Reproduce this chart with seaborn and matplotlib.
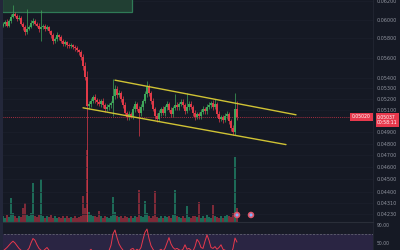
import numpy as np
import matplotlib
matplotlib.use("Agg")
import matplotlib.pyplot as plt
from matplotlib.patches import Rectangle
from matplotlib.ticker import NullLocator, NullFormatter
import seaborn as sns

sns.set_style("dark")
plt.rcParams['font.family'] = ['DejaVu Sans']

# ---------------- data (prices in units of 1e-5) ----------------
first_open_e5 = 5936
close_e5 = [
    5957, 5978, 5936, 5989, 6032, 6064, 6043, 6010, 6021, 5957,
    5915, 5863, 5904, 5925, 5968, 5989, 5957, 5936, 5894, 5915,
    5936, 5904, 5915, 5873, 5832, 5769, 5790, 5832, 5811, 5769,
    5739, 5759, 5728, 5718, 5728, 5708, 5698, 5678, 5657, 5607,
    5517, 5409, 5137, 5155, 5183, 5220, 5192, 5174, 5155, 5183,
    5146, 5109, 5128, 5146, 5164, 5229, 5295, 5239, 5257, 5201,
    5146, 5073, 5037, 5064, 5046, 5109, 5155, 5109, 5073, 5128,
    5183, 5248, 5314, 5257, 5183, 5109, 5046, 5019, 5073, 5109,
    5073, 5128, 5155, 5100, 5064, 5119, 5146, 5128, 5155, 5174,
    5146, 5091, 5128, 5155, 5128, 5073, 5037, 5064, 5046, 5082,
    5109, 5091, 5128, 5146, 5164, 5128, 5155, 5064, 5019, 5037,
    5010, 5046, 5064, 5001, 4939, 4903, 5109, 5037,
]
upper_wick_e5 = [
    20, 15, 25, 20, 30, 99, 15, 20, 25, 15,
    20, 30, 215, 15, 25, 30, 20, 15, 25, 193,
    20, 15, 30, 20, 15, 25, 20, 30, 15, 20,
    25, 20, 15, 20, 25, 15, 20, 25, 15, 20,
    30, 40, 60, 25, 30, 20, 25, 15, 30, 20,
    25, 20, 30, 15, 20, 161, 40, 25, 30, 20,
    25, 30, 20, 25, 15, 30, 25, 20, 30, 25,
    20, 30, 57, 25, 20, 30, 20, 25, 30, 20,
    25, 20, 30, 15, 25, 20, 102, 25, 20, 30,
    25, 20, 129, 25, 30, 20, 25, 15, 20, 30,
    25, 20, 30, 25, 20, 25, 46, 20, 25, 15,
    20, 25, 30, 20, 15, 20, 148, 74,
]
lower_wick_e5 = [
    20, 25, 15, 20, 25, 15, 20, 25, 15, 20,
    25, 30, 20, 15, 20, 25, 20, 15, 30, 125,
    20, 25, 15, 20, 30, 25, 20, 15, 25, 20,
    15, 20, 25, 20, 15, 20, 25, 20, 30, 25,
    40, 30, 1137, 30, 25, 20, 30, 25, 20, 30,
    25, 30, 20, 25, 30, 118, 30, 25, 20, 30,
    25, 20, 30, 25, 20, 25, 30, 20, 204, 25,
    30, 20, 25, 30, 25, 20, 30, 25, 20, 30,
    20, 25, 30, 20, 25, 30, 20, 25, 30, 20,
    25, 30, 20, 25, 20, 30, 25, 20, 30, 25,
    20, 30, 25, 20, 25, 30, 20, 25, 30, 20,
    25, 20, 30, 25, 30, 26, 30, 25,
]
volume = [
    8, 6, 10, 7, 33, 12, 8, 6, 9, 7,
    19, 26, 10, 8, 12, 54, 9, 7, 10, 60,
    8, 6, 9, 7, 10, 6, 8, 5, 7, 6,
    8, 6, 9, 5, 7, 6, 8, 5, 7, 9,
    36, 20, 100, 14, 10, 8, 9, 7, 15, 8,
    6, 9, 7, 5, 8, 35, 14, 9, 7, 8,
    6, 9, 7, 5, 8, 6, 9, 7, 44, 8,
    7, 29, 12, 8, 6, 9, 43, 7, 5, 8,
    6, 9, 7, 8, 6, 10, 44, 9, 7, 6,
    8, 5, 22, 7, 6, 9, 8, 7, 28, 6,
    8, 5, 10, 7, 6, 24, 9, 7, 6, 8,
    6, 9, 10, 8, 7, 12, 90, 20,
]
rsi = [
    32, 36, 40, 45, 50, 54, 50, 44, 38, 34,
    31, 30, 33, 38, 50, 60, 56, 46, 38, 34,
    32, 36, 40, 34, 30, 28, 31, 33, 30, 27,
    26, 29, 27, 25, 26, 28, 25, 24, 26, 22,
    18, 12, 20, 32, 36, 30, 33, 31, 29, 32,
    30, 28, 31, 33, 45, 70, 79, 62, 48, 40,
    34, 30, 28, 31, 36, 38, 32, 36, 33, 40,
    58, 74, 81, 60, 44, 36, 30, 28, 33, 36,
    32, 38, 50, 62, 48, 40, 36, 38, 35, 33,
    36, 46, 36, 38, 34, 32, 42, 58, 52, 40,
    38, 54, 68, 56, 40, 38, 42, 36, 40, 46,
    36, 34, 32, 28, 26, 38, 61, 52,
]
price_ticks = [0.06200, 0.06000, 0.05800, 0.05600, 0.05400, 0.05300, 0.05200,
               0.05100, 0.04900, 0.04800, 0.04700, 0.04600, 0.04500, 0.04400,
               0.04310, 0.04230]
price_tick_labels = ["0.06200", "0.06000", "0.05800", "0.05600", "0.05400",
                     "0.05300", "0.05200", "0.05100", "0.04900", "0.04800",
                     "0.04700", "0.04600", "0.04500", "0.04400", "0.04310",
                     "0.04230"]
rsi_ticks = [90, 50]
rsi_tick_labels = ["90.00", "50.00"]
rsi_band = [30, 70]

channel_upper_idx = [56, 146.5]
channel_upper_price = [0.05380, 0.05055]
channel_lower_idx = [40, 141.5]
channel_lower_price = [0.05119, 0.04791]
zone_idx = [-0.5, 64.5]
zone_price = [0.06086, 0.06400]
last_price = 0.05037
last_price_text = "0.05037"
countdown_text = "00:58:11"
left_label_text = "0.05020"
event_idx = [117, 124]
event_price = [0.04221, 0.04221]

# ---------------- derived OHLC ----------------
close = np.array(close_e5) / 1e5
opn = np.concatenate([[first_open_e5 / 1e5], close[:-1]])
high = np.maximum(opn, close) + np.array(upper_wick_e5) / 1e5
low = np.minimum(opn, close) - np.array(lower_wick_e5) / 1e5
idx = np.arange(len(close))
up = close >= opn

BG = "#151924"
UP = "#3fa65a"
DN = "#e03a48"
VUP = "#1d6a57"
VDN = "#7e2a38"

fig = plt.figure(figsize=(4, 2.5), dpi=100, facecolor=BG)
W = 373 / 400
rect_main = [0, 28 / 250, W, 222 / 250]

# volume (behind)
vax = fig.add_axes(rect_main, zorder=0)
vax.set_facecolor(BG)
vax.bar(idx, volume, width=0.75, color=np.where(up, VUP, VDN), linewidth=0)
vax.set_xlim(-1.5, 185)
vax.set_ylim(0, 100 * 222 / 72)
vax.set_xticks([]); vax.set_yticks([])
for s in vax.spines.values():
    s.set_visible(False)

# main price axes
ax = fig.add_axes(rect_main, zorder=1)
ax.patch.set_alpha(0)
ax.set_yscale("log")
ax.set_xlim(-1.5, 185)
ax.set_ylim(0.04168, 0.06215)

for t in price_ticks:
    ax.axhline(t, color="#1b1f2c", lw=0.5, zorder=0)

ax.add_patch(Rectangle((zone_idx[0], zone_price[0]), zone_idx[1] - zone_idx[0],
                       zone_price[1] - zone_price[0], facecolor="#213f33",
                       edgecolor="#2f7a56", lw=0.9, zorder=1))

cols = np.where(up, UP, DN)
ax.vlines(idx, low, high, colors=cols, lw=0.5, zorder=2)
ax.bar(idx, np.abs(close - opn) + 1e-6, bottom=np.minimum(opn, close),
       width=0.8, color=cols, linewidth=0, zorder=3)

ax.plot(channel_upper_idx, channel_upper_price, color="#cfc234", lw=1.0, zorder=4)
ax.plot(channel_lower_idx, channel_lower_price, color="#cfc234", lw=1.0, zorder=4)

ax.axhline(last_price, color="#d8364a", lw=0.5, ls=(0, (1.5, 1.5)), zorder=2)

sns.scatterplot(x=event_idx, y=event_price, ax=ax, s=22, color="#e0566a",
                edgecolor="none", zorder=5)
sns.scatterplot(x=event_idx, y=event_price, ax=ax, s=5, color="#7fb2ff",
                edgecolor="none", zorder=6)

ax.yaxis.tick_right()
ax.set_yticks(price_ticks, price_tick_labels)
ax.yaxis.set_minor_locator(NullLocator())
ax.yaxis.set_minor_formatter(NullFormatter())
ax.tick_params(axis="y", length=0, pad=2.5, labelsize=3.5, labelcolor="#8f939e")
ax.set_xticks([])
for name, s in ax.spines.items():
    s.set_visible(name == "right")
ax.spines["right"].set_color("#232733")
ax.spines["right"].set_linewidth(0.6)

ax.annotate(last_price_text + "\n" + countdown_text, xy=(1.0, last_price),
            xycoords=("axes fraction", "data"), xytext=(3, 1.5),
            textcoords="offset points", ha="left", va="top", fontsize=3.3,
            color="white", linespacing=1.1,
            bbox=dict(boxstyle="square,pad=0.35", fc="#e8394d", ec="none"))
ax.annotate(left_label_text, xy=(1.0, last_price),
            xycoords=("axes fraction", "data"), xytext=(-1.5, 0),
            textcoords="offset points", ha="right", va="center", fontsize=3.3,
            color="white",
            bbox=dict(boxstyle="square,pad=0.35", fc="#e8394d", ec="none"))

# RSI pane
rax = fig.add_axes([0, 0, W, 28 / 250], zorder=1)
rax.set_facecolor("#181b27")
rax.set_xlim(-1.5, 185)
rax.set_ylim(34.4, 96.7)
rax.axhspan(rsi_band[0], rsi_band[1], color="#2a2543", lw=0, zorder=0)
rax.axhline(rsi_band[1], color="#6d6f7a", lw=0.5, ls=(0, (3, 2)), zorder=1)
sns.lineplot(x=idx, y=rsi, ax=rax, color="#e8394d", lw=0.7, zorder=2)
rax.yaxis.tick_right()
rax.set_yticks(rsi_ticks, rsi_tick_labels)
rax.tick_params(axis="y", length=0, pad=2.5, labelsize=3.3, labelcolor="#8f939e")
rax.set_xticks([])
rax.set_xlabel(""); rax.set_ylabel("")
for name, s in rax.spines.items():
    s.set_visible(name in ("top", "right"))
rax.spines["top"].set_color("#2a2e39")
rax.spines["top"].set_linewidth(0.8)
rax.spines["right"].set_color("#232733")
rax.spines["right"].set_linewidth(0.6)

# left border strip
fig.patches.append(Rectangle((0, 0), 2.5 / 400, 1, transform=fig.transFigure,
                             facecolor="#23273a", edgecolor="none", zorder=10))

fig.savefig("out.png", dpi=100, facecolor=BG)
